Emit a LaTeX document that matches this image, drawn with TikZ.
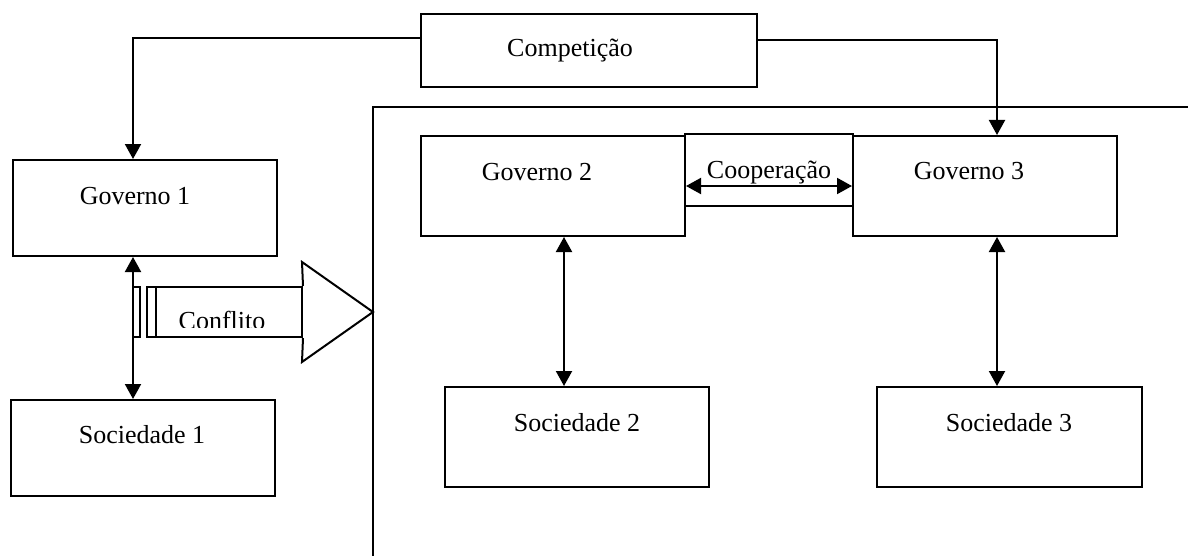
\documentclass[tikz,border=0pt]{standalone}
\usepackage{fontspec}
\setmainfont{Liberation Serif}
\usetikzlibrary{arrows.meta}

\tikzset{
  box/.style={draw, line width=1pt, inner sep=0pt, minimum width=132pt, minimum height=50pt},
  txt/.style={inner sep=0pt},
  arr/.style={line width=1pt, -{Triangle[width=8pt,length=7.5pt]}},
  dbl/.style={line width=1pt, {Triangle[width=8pt,length=7.5pt]}-{Triangle[width=8pt,length=7.5pt]}}
}

\begin{document}
\begin{tikzpicture}[x=0.5pt, y=-0.5pt, font=\fontsize{13}{15}\selectfont]
  \useasboundingbox (0,0) rectangle (1188,556);

  % 1. The boxes (coordinates in pixels of the drawing)
  \node[box, minimum width=168pt, minimum height=36.5pt] (comp) at (589,50.5) {};
  \node[box, minimum height=48pt] (gov1) at (145,208) {};
  \node[box, minimum height=48pt] (soc1) at (143,448) {};
  \node[box, minimum width=84pt, minimum height=36pt] (coop) at (769,170) {};
  \node[box] (gov2) at (553,186) {};
  \node[box] (gov3) at (985,186) {};
  \node[box] (soc2) at (577,437) {};
  \node[box, minimum width=132.5pt] (soc3) at (1009.5,437) {};

  % 2. Their texts, set a little off the centre as in the original
  \node[txt] (tcomp) at (570,51) {Competição};
  \node[txt] (tgov1) at (135,196) {Governo 1};
  \node[txt] (tsoc1) at (142,435) {Sociedade 1};
  \node[txt] (tcoop) at (769,172.5) {Cooperação};
  \node[txt] (tgov2) at (537,172) {Governo 2};
  \node[txt] (tgov3) at (969,171.5) {Governo 3};
  \node[txt] (tsoc2) at (577,423) {Sociedade 2};
  \node[txt] (tsoc3) at (1009,423) {Sociedade 3};

  % 3. The border of the second group
  \coordinate (corner) at (373,107);
  \draw[line width=1pt] (1188,107) -- (corner) -- (373,556);

  % 4. Competition lines from the top box
  \draw[arr] ([yshift=6pt]comp.west) -| ([xshift=-6pt]gov1.north);
  \draw[arr] ([yshift=5pt]comp.east) -| ([xshift=6pt]gov3.north);

  % 5. Government <-> society, and cooperation
  \draw[dbl] ([xshift=-6pt]gov1.south) -- ([xshift=-5pt]soc1.north);
  \draw[dbl] ([xshift=5.5pt]gov2.south) -- ([xshift=-6.5pt]soc2.north);
  \draw[dbl] ([xshift=6pt]gov3.south) -- ([xshift=-6.25pt]soc3.north);
  \draw[dbl] (gov2.east) -- (gov3.west);

  % 6. The striped arrow for the conflict
  \node[draw, line width=1pt, inner sep=0pt, minimum width=73pt, minimum height=25pt] (confl) at (229,312) {};
  \draw[line width=1pt] (confl.north east) -- (302,262) -- (373,312) -- (302,362) -- (confl.south east);
  \draw[line width=1pt] (147,287) rectangle (156,337);
  \draw[line width=1pt] (133,287) rectangle (140,337);
  \begin{scope}
    \clip (confl.north west) rectangle ([yshift=5.5pt]confl.south east);
    \node[txt, anchor=base] (tconfl) at (222,329) {Conflito};
  \end{scope}

\end{tikzpicture}
\end{document}
